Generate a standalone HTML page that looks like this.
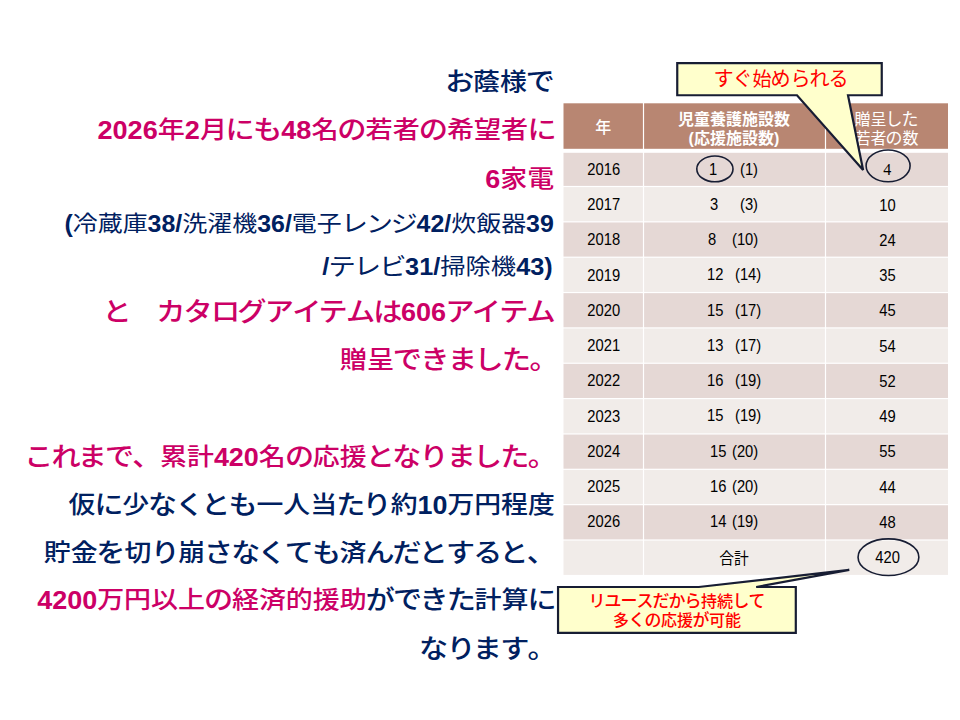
<!DOCTYPE html>
<html lang="ja"><head><meta charset="utf-8">
<style>
html,body{margin:0;padding:0;background:#fff;}
body{width:960px;height:720px;position:relative;overflow:hidden;font-family:"Liberation Sans", "Noto Sans CJK JP", sans-serif;}
.ln{position:absolute;white-space:nowrap;line-height:1;text-align:right;transform-origin:100% 0;font-weight:500;}
.k{display:inline-block;transform:scale(1.08);}
.co1 .k,.co2 .k,.h .k{transform:scale(1.06);}
.ln b{font-weight:bold;display:inline-block;transform:scaleY(1.1);}
.n{color:#002060;}
.m{color:#CC0066;}
.c{position:absolute;}
.t,.ta{position:absolute;font-size:15.7px;line-height:20px;color:#000;white-space:nowrap;transform:scaleX(0.94);transform-origin:0 50%;}
.t{transform-origin:50% 50%;}
.t{text-align:center;}
.serif{font-family:"Liberation Serif","Noto Serif CJK SC",serif;font-size:16px;transform:none;}
.h{position:absolute;text-align:center;color:#fff;font-size:16px;line-height:18.7px;white-space:nowrap;}
.ov{position:absolute;left:0;top:0;}
.co1{position:absolute;left:678.5px;width:205px;top:66.6px;text-align:center;color:#FF0000;font-size:19px;font-weight:400;line-height:26px;white-space:nowrap;}
.co2{position:absolute;left:558px;width:238px;top:593.3px;text-align:center;color:#FF0000;font-size:16px;font-weight:500;line-height:18.8px;white-space:nowrap;}
</style></head><body>
<div class="ln" style="right:405.99px;top:70.08px;font-size:26.67px;transform:scale(1.0067,0.91)"><span class="n"><span class="k">お</span>蔭様<span class="k">で</span></span></div>
<div class="ln" style="right:404.97px;top:118.03px;font-size:26.67px;transform:scale(1.0168,0.91)"><span class="m"><b>2026</b>年<b>2</b>月<span class="k">に</span><span class="k">も</span><b>48</b>名<span class="k">の</span>若者<span class="k">の</span>希望者<span class="k">に</span></span></div>
<div class="ln" style="right:405.59px;top:166.53px;font-size:26.67px;transform:scale(1.0106,0.91)"><span class="m"><b>6</b>家電</span></div>
<div class="ln" style="right:405.96px;top:212.58px;font-size:24px;transform:scale(1.0394,0.91)"><span class="n" style="font-weight:400"><b>(</b>冷蔵庫<b>38/</b>洗濯機<b>36/</b>電子<span class="k">レ</span><span class="k">ン</span><span class="k">ジ</span><b>42/</b>炊飯器<b>39</b></span></div>
<div class="ln" style="right:407.45px;top:256.10px;font-size:24px;transform:scale(1.0541,0.91)"><span class="n" style="font-weight:400"><b>/</b><span class="k">テ</span><span class="k">レ</span><span class="k">ビ</span><b>31/</b>掃除機<b>43)</b></span></div>
<div class="ln" style="right:405.59px;top:299.83px;font-size:26.67px;transform:scale(1.0146,0.91)"><span class="m"><span class="k">と</span>　<span class="k">カ</span><span class="k">タ</span><span class="k">ロ</span><span class="k">グ</span><span class="k">ア</span><span class="k">イ</span><span class="k">テ</span><span class="k">ム</span><span class="k">は</span><b>606</b><span class="k">ア</span><span class="k">イ</span><span class="k">テ</span><span class="k">ム</span></span></div>
<div class="ln" style="right:403.14px;top:347.82px;font-size:26.67px;transform:scale(1.0201,0.91)"><span class="m">贈呈<span class="k">で</span><span class="k">き</span><span class="k">ま</span><span class="k">し</span><span class="k">た</span><span class="k">。</span></span></div>
<div class="ln" style="right:405.10px;top:444.83px;font-size:26.67px;transform:scale(1.011,0.91)"><span class="m"><span class="k">こ</span><span class="k">れ</span><span class="k">ま</span><span class="k">で</span><span class="k">、</span>累計<b>420</b>名<span class="k">の</span>応援<span class="k">と</span><span class="k">な</span><span class="k">り</span><span class="k">ま</span><span class="k">し</span><span class="k">た</span><span class="k">。</span></span></div>
<div class="ln" style="right:405.69px;top:492.58px;font-size:26.67px;transform:scale(1.0073,0.91)"><span class="n">仮<span class="k">に</span>少<span class="k">な</span><span class="k">く</span><span class="k">と</span><span class="k">も</span>一人当<span class="k">た</span><span class="k">り</span>約<b>10</b>万円程度</span></div>
<div class="ln" style="right:405.85px;top:540.98px;font-size:26.67px;transform:scale(1.0082,0.91)"><span class="n">貯金<span class="k">を</span>切<span class="k">り</span>崩<span class="k">さ</span><span class="k">な</span><span class="k">く</span><span class="k">て</span><span class="k">も</span>済<span class="k">ん</span><span class="k">だ</span><span class="k">と</span><span class="k">す</span><span class="k">る</span><span class="k">と</span><span class="k">、</span></span></div>
<div class="ln" style="right:404.98px;top:588.21px;font-size:26.67px;transform:scale(1.0114,0.91)"><span class="m"><b>4200</b>万円以上<span class="k">の</span>経済的援助</span><span class="n"><span class="k">が</span><span class="k">で</span><span class="k">き</span><span class="k">た</span>計算<span class="k">に</span></span></div>
<div class="ln" style="right:405.15px;top:636.66px;font-size:26.67px;transform:scale(1.014,0.91)"><span class="n"><span class="k">な</span><span class="k">り</span><span class="k">ま</span><span class="k">す</span><span class="k">。</span></span></div>
<svg class="ov" width="960" height="720" viewBox="0 0 960 720"><rect x="563.50" y="103.30" width="79.40" height="45.50" fill="#B88672"/><rect x="644.10" y="103.30" width="180.80" height="45.50" fill="#B88672"/><rect x="826.10" y="103.30" width="121.90" height="45.50" fill="#B88672"/><rect x="563.50" y="152.80" width="79.40" height="33.10" fill="#E5D8D5"/><rect x="644.10" y="152.80" width="180.80" height="33.10" fill="#E5D8D5"/><rect x="826.10" y="152.80" width="121.90" height="33.10" fill="#E5D8D5"/><rect x="563.50" y="187.10" width="79.40" height="34.15" fill="#F1ECE9"/><rect x="644.10" y="187.10" width="180.80" height="34.15" fill="#F1ECE9"/><rect x="826.10" y="187.10" width="121.90" height="34.15" fill="#F1ECE9"/><rect x="563.50" y="222.45" width="79.40" height="34.15" fill="#E5D8D5"/><rect x="644.10" y="222.45" width="180.80" height="34.15" fill="#E5D8D5"/><rect x="826.10" y="222.45" width="121.90" height="34.15" fill="#E5D8D5"/><rect x="563.50" y="257.80" width="79.40" height="34.15" fill="#F1ECE9"/><rect x="644.10" y="257.80" width="180.80" height="34.15" fill="#F1ECE9"/><rect x="826.10" y="257.80" width="121.90" height="34.15" fill="#F1ECE9"/><rect x="563.50" y="293.15" width="79.40" height="34.15" fill="#E5D8D5"/><rect x="644.10" y="293.15" width="180.80" height="34.15" fill="#E5D8D5"/><rect x="826.10" y="293.15" width="121.90" height="34.15" fill="#E5D8D5"/><rect x="563.50" y="328.50" width="79.40" height="34.15" fill="#F1ECE9"/><rect x="644.10" y="328.50" width="180.80" height="34.15" fill="#F1ECE9"/><rect x="826.10" y="328.50" width="121.90" height="34.15" fill="#F1ECE9"/><rect x="563.50" y="363.85" width="79.40" height="34.15" fill="#E5D8D5"/><rect x="644.10" y="363.85" width="180.80" height="34.15" fill="#E5D8D5"/><rect x="826.10" y="363.85" width="121.90" height="34.15" fill="#E5D8D5"/><rect x="563.50" y="399.20" width="79.40" height="34.15" fill="#F1ECE9"/><rect x="644.10" y="399.20" width="180.80" height="34.15" fill="#F1ECE9"/><rect x="826.10" y="399.20" width="121.90" height="34.15" fill="#F1ECE9"/><rect x="563.50" y="434.55" width="79.40" height="34.15" fill="#E5D8D5"/><rect x="644.10" y="434.55" width="180.80" height="34.15" fill="#E5D8D5"/><rect x="826.10" y="434.55" width="121.90" height="34.15" fill="#E5D8D5"/><rect x="563.50" y="469.90" width="79.40" height="34.15" fill="#F1ECE9"/><rect x="644.10" y="469.90" width="180.80" height="34.15" fill="#F1ECE9"/><rect x="826.10" y="469.90" width="121.90" height="34.15" fill="#F1ECE9"/><rect x="563.50" y="505.25" width="79.40" height="34.15" fill="#E5D8D5"/><rect x="644.10" y="505.25" width="180.80" height="34.15" fill="#E5D8D5"/><rect x="826.10" y="505.25" width="121.90" height="34.15" fill="#E5D8D5"/><rect x="563.50" y="540.60" width="79.40" height="34.30" fill="#F1ECE9"/><rect x="644.10" y="540.60" width="180.80" height="34.30" fill="#F1ECE9"/><rect x="826.10" y="540.60" width="121.90" height="34.30" fill="#F1ECE9"/></svg>

<div class="h" style="left:563.5px;width:79.39999999999998px;top:119px;font-weight:500">年</div>
<div class="h" style="left:642.9px;width:182.0px;top:109.6px;font-weight:700;line-height:19.2px">児童養護施設数<br>(応援施設数)</div>
<div class="h" style="left:824.9px;width:123.10000000000002px;top:110.2px;font-weight:400;line-height:19px">贈呈<span class="k">し</span><span class="k">た</span><br>若者<span class="k">の</span>数</div>

<div class="t" style="left:563.5px;width:79.39999999999998px;top:159.85px">2016</div><div class="ta" style="left:709.1px;top:159.55px">1</div><div class="ta" style="left:739.9px;top:159.55px">(1)</div><div class="t serif" style="left:825.6999999999999px;width:123.10000000000002px;top:159.95px">4</div><div class="t" style="left:563.5px;width:79.39999999999998px;top:195.10px">2017</div><div class="ta" style="left:710.45px;top:194.80px">3</div><div class="ta" style="left:739.5px;top:194.80px">(3)</div><div class="t" style="left:825.6999999999999px;width:123.10000000000002px;top:195.50px">10</div><div class="t" style="left:563.5px;width:79.39999999999998px;top:230.35px">2018</div><div class="ta" style="left:707.95px;top:230.05px">8</div><div class="ta" style="left:732.4px;top:230.05px">(10)</div><div class="t" style="left:825.6999999999999px;width:123.10000000000002px;top:230.75px">24</div><div class="t" style="left:563.5px;width:79.39999999999998px;top:265.60px">2019</div><div class="ta" style="left:707.1px;top:265.30px">12</div><div class="ta" style="left:734.5px;top:265.30px">(14)</div><div class="t" style="left:825.6999999999999px;width:123.10000000000002px;top:266.00px">35</div><div class="t" style="left:563.5px;width:79.39999999999998px;top:300.85px">2020</div><div class="ta" style="left:707.1px;top:300.55px">15</div><div class="ta" style="left:734.5px;top:300.55px">(17)</div><div class="t" style="left:825.6999999999999px;width:123.10000000000002px;top:301.25px">45</div><div class="t" style="left:563.5px;width:79.39999999999998px;top:336.10px">2021</div><div class="ta" style="left:707.1px;top:335.80px">13</div><div class="ta" style="left:734.5px;top:335.80px">(17)</div><div class="t" style="left:825.6999999999999px;width:123.10000000000002px;top:336.50px">54</div><div class="t" style="left:563.5px;width:79.39999999999998px;top:371.35px">2022</div><div class="ta" style="left:707.1px;top:371.05px">16</div><div class="ta" style="left:734.5px;top:371.05px">(19)</div><div class="t" style="left:825.6999999999999px;width:123.10000000000002px;top:371.75px">52</div><div class="t" style="left:563.5px;width:79.39999999999998px;top:406.60px">2023</div><div class="ta" style="left:707.1px;top:406.30px">15</div><div class="ta" style="left:734.5px;top:406.30px">(19)</div><div class="t" style="left:825.6999999999999px;width:123.10000000000002px;top:407.00px">49</div><div class="t" style="left:563.5px;width:79.39999999999998px;top:441.85px">2024</div><div class="ta" style="left:710.0px;top:441.55px">15</div><div class="ta" style="left:732.4px;top:441.55px">(20)</div><div class="t" style="left:825.6999999999999px;width:123.10000000000002px;top:442.25px">55</div><div class="t" style="left:563.5px;width:79.39999999999998px;top:477.10px">2025</div><div class="ta" style="left:710.0px;top:476.80px">16</div><div class="ta" style="left:732.4px;top:476.80px">(20)</div><div class="t" style="left:825.6999999999999px;width:123.10000000000002px;top:477.50px">44</div><div class="t" style="left:563.5px;width:79.39999999999998px;top:512.35px">2026</div><div class="ta" style="left:710.0px;top:512.05px">14</div><div class="ta" style="left:732.4px;top:512.05px">(19)</div><div class="t" style="left:825.6999999999999px;width:123.10000000000002px;top:512.75px">48</div><div class="t" style="left:642.9px;width:182.0px;top:549.40px">合計</div><div class="t" style="left:825.6999999999999px;width:123.10000000000002px;top:548.40px">420</div>

<svg class="ov" width="960" height="720" viewBox="0 0 960 720">
  <ellipse cx="714.9" cy="168.9" rx="18.1" ry="12.9" fill="none" stroke="#171D33" stroke-width="1.6"/>
  <ellipse cx="888.1" cy="165.85" rx="22" ry="15.9" fill="none" stroke="#171D33" stroke-width="1.6"/>
  <ellipse cx="888.45" cy="557.2" rx="30.4" ry="18.3" fill="none" stroke="#171D33" stroke-width="1.6"/>
  <path d="M677.25 63.1 H881.75 V95.25 H848 L863.1 170.0 L797 95.25 H677.25 Z" fill="#FFFFCC" stroke="#171D33" stroke-width="2.2" stroke-linejoin="miter" stroke-miterlimit="2"/>
  <path d="M558.05 587.0 H698.8 L849.3 569.9 L756.2 587.0 H795.8 V632.85 H558.05 Z" fill="#FFFFCC" stroke="#171D33" stroke-width="2.2" stroke-linejoin="miter" stroke-miterlimit="2"/>
</svg>


<div class="co1"><span class="k">す</span><span class="k">ぐ</span>始<span class="k">め</span><span class="k">ら</span><span class="k">れ</span><span class="k">る</span></div>
<div class="co2"><span class="k">リ</span><span class="k">ユ</span><span class="k">ー</span><span class="k">ス</span><span class="k">だ</span><span class="k">か</span><span class="k">ら</span>持続<span class="k">し</span><span class="k">て</span><br>多<span class="k">く</span><span class="k">の</span>応援<span class="k">が</span>可能</div>

</body></html>
